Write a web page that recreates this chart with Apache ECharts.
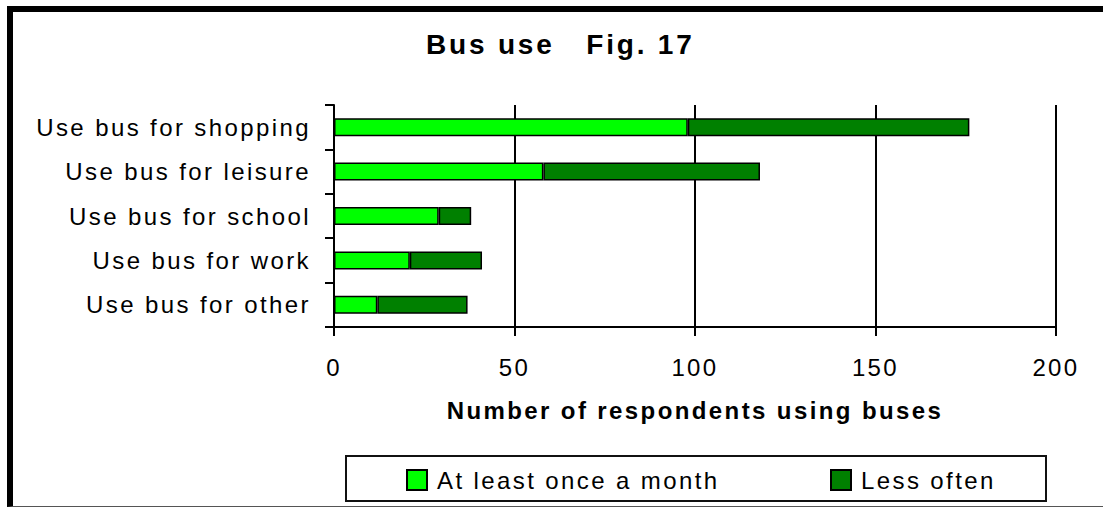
<!DOCTYPE html>
<html>
<head>
<meta charset="utf-8">
<title>Bus use Fig. 17</title>
<script src="https://cdn.jsdelivr.net/npm/echarts@6/dist/echarts.min.js"></script>
<style>
  html, body { margin: 0; padding: 0; background: #fff; }
  /* heavy left/top frame, thin bottom rule */
  #frame {
    position: absolute; left: 7px; top: 6px; width: 1200px; height: 501px;
    box-sizing: border-box;
    border-top: 6px solid #000; border-left: 6px solid #000; border-bottom: 1px solid #555;
  }
  #chart { position: absolute; left: 0; top: 0; width: 1103px; height: 507px; }
  /* the original uses widely tracked type */
  #chart text { letter-spacing: 0.1em; }
</style>
</head>
<body>
<div id="frame"></div>
<div id="chart"></div>
<script>
// categories, top to bottom
const categories = [
  'Use bus for shopping',
  'Use bus for leisure',
  'Use bus for school',
  'Use bus for work',
  'Use bus for other'
]
const monthly = [98, 58, 29, 21, 12]
const lessOften = [78, 60, 9, 20, 25]
const seriesNames = ['At least once a month', 'Less often']
const xMin = 0
const xMax = 200
const xStep = 50

const FONT = "'Liberation Sans', Arial, sans-serif"
const black = '#000'

const chart = echarts.init(document.getElementById('chart'), null, { renderer: 'svg' })

const legendBase = {
  top: 468,
  padding: 0,
  itemWidth: 20,
  itemHeight: 20,
  icon: 'rect',
  selectedMode: false,
  textStyle: { fontSize: 24, color: black, fontFamily: FONT, padding: [0, 0, 0, 5] }
}

chart.setOption({
  animation: false,
  backgroundColor: 'transparent',
  title: {
    text: 'Bus use   Fig. 17',
    left: 426,
    top: 30,
    padding: 0,
    textStyle: { fontSize: 28, fontWeight: 'bold', color: black, fontFamily: FONT }
  },
  legend: [
    Object.assign({ data: [seriesNames[0]], left: 406 }, legendBase),
    Object.assign({ data: [seriesNames[1]], left: 830 }, legendBase)
  ],
  grid: { left: 334, right: 47, top: 105, bottom: 180, outerBoundsMode: 'none' },
  xAxis: {
    type: 'value',
    min: xMin,
    max: xMax,
    interval: xStep,
    name: 'Number of respondents using buses',
    nameLocation: 'middle',
    nameGap: 71,
    nameTextStyle: { fontSize: 24, fontWeight: 'bold', color: black, fontFamily: FONT },
    axisLine: { show: true, lineStyle: { color: black, width: 2 } },
    axisTick: { show: true, length: 9, lineStyle: { color: black, width: 2 } },
    axisLabel: { fontSize: 24, color: black, fontFamily: FONT, margin: 28 },
    splitLine: { show: true, lineStyle: { color: black, width: 2 } }
  },
  yAxis: {
    type: 'category',
    data: categories,
    inverse: true,
    axisLine: { show: true, lineStyle: { color: black, width: 2 } },
    axisTick: { show: true, length: 9, lineStyle: { color: black, width: 2 } },
    axisLabel: { fontSize: 24, color: black, fontFamily: FONT, margin: 23 },
    splitLine: { show: false }
  },
  series: [
    {
      name: seriesNames[0],
      type: 'bar',
      stack: 'total',
      data: monthly,
      barWidth: 18,
      itemStyle: { color: '#00ff00', borderColor: black, borderWidth: 1.5 }
    },
    {
      name: seriesNames[1],
      type: 'bar',
      stack: 'total',
      data: lessOften,
      barWidth: 18,
      itemStyle: { color: '#008000', borderColor: black, borderWidth: 1.5 }
    }
  ],
  graphic: [
    {
      type: 'rect',
      silent: true,
      shape: { x: 346, y: 456, width: 700, height: 45 },
      style: { fill: 'none', stroke: '#111', lineWidth: 2 }
    }
  ]
})
</script>
</body>
</html>
